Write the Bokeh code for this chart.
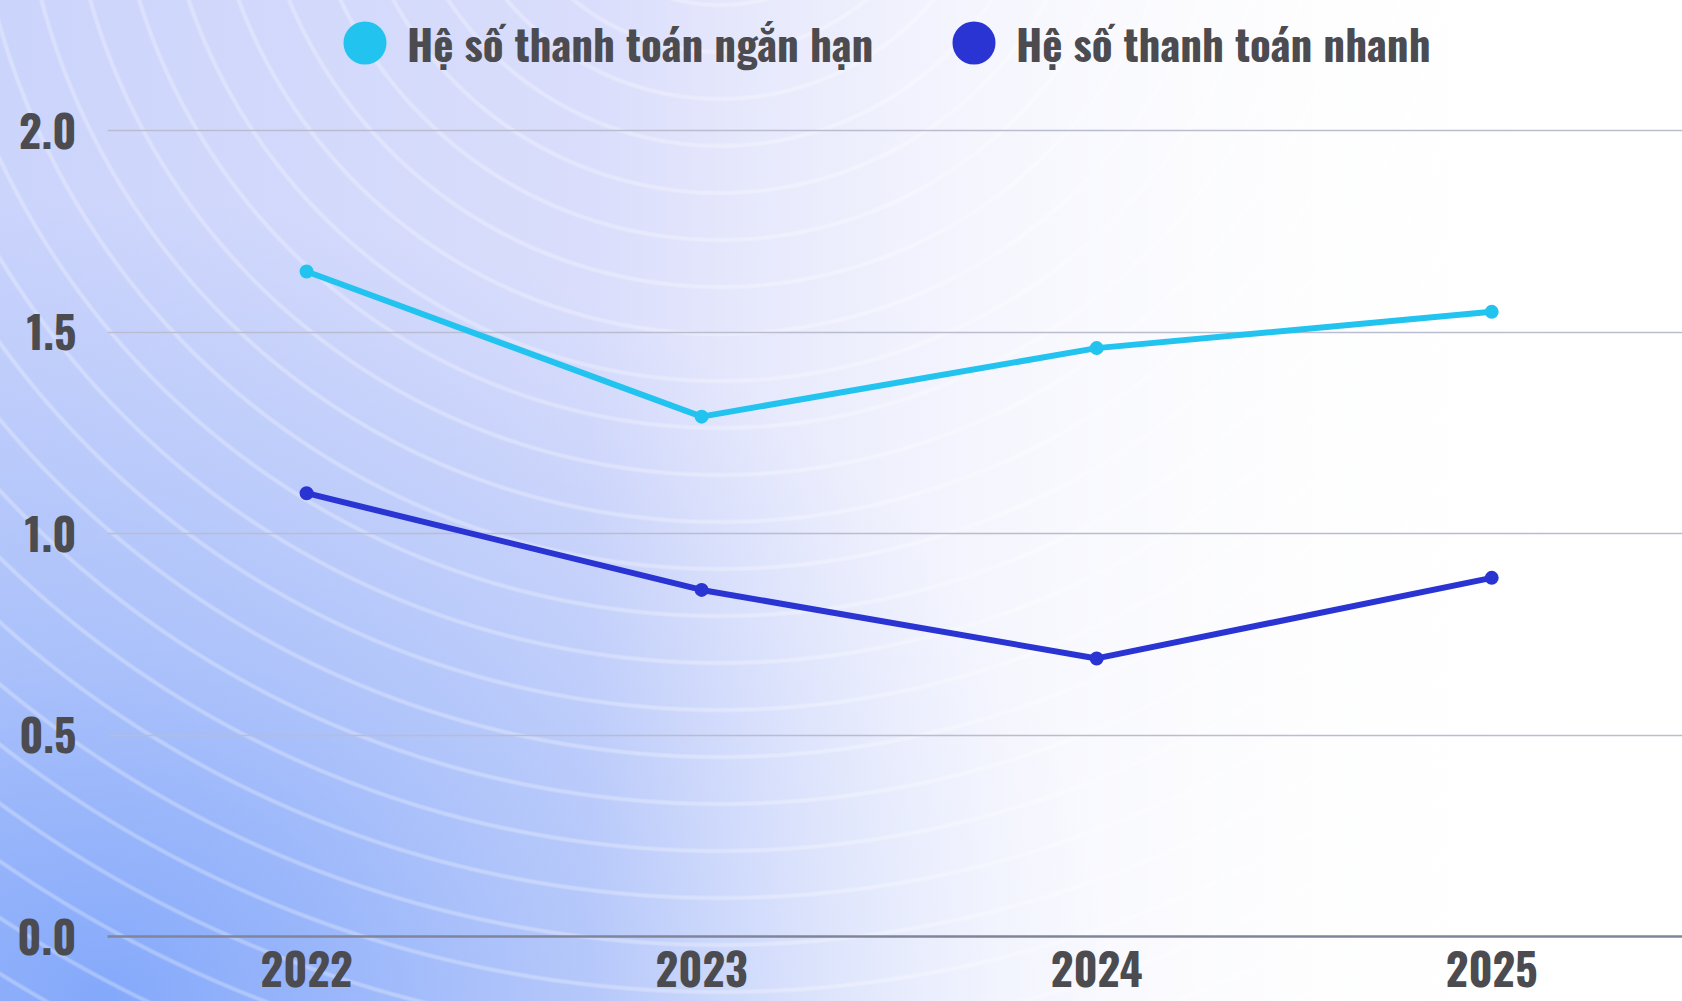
from bokeh.plotting import figure
from bokeh.models import (ColumnDataSource, Legend, LegendItem, FixedTicker,
                          Range1d, NumeralTickFormatter)
from bokeh.embed import file_html
from bokeh.resources import INLINE

# ---- data ----
years = ["2022", "2023", "2024", "2025"]
current_ratio = [1.65, 1.29, 1.46, 1.55]
quick_ratio = [1.10, 0.86, 0.69, 0.89]
y_ticks = [0.0, 0.5, 1.0, 1.5, 2.0]
series_names = ["Hệ số thanh toán ngắn hạn", "Hệ số thanh toán nhanh"]

FONT = "Oswald"
TEXT = "#4b4b50"
C1 = "#22c3ef"
C2 = "#2a34d3"

idx = list(range(len(years)))
src = ColumnDataSource(dict(i=idx, year=years, cur=current_ratio, quick=quick_ratio))

p = figure(width=1682, height=1001, output_backend="svg", toolbar_location=None,
           x_range=Range1d(-0.504, 3.483), y_range=Range1d(0, 2.3226),
           min_border_left=107, min_border_right=0, min_border_top=0,
           min_border_bottom=65)

p.background_fill_alpha = 0
p.border_fill_alpha = 0
p.outline_line_alpha = 0

bg = ("linear-gradient(to right, rgba(255,255,255,0) 0%, rgba(255,255,255,0) 35%, "
      "rgba(255,255,255,0.6) 60%, rgba(255,255,255,0.92) 82%, #ffffff 100%), "
      "repeating-radial-gradient(circle at 720px -180px, rgba(255,255,255,0) 0px, "
      "rgba(255,255,255,0) 41px, rgba(255,255,255,0.28) 43px, rgba(255,255,255,0.28) 45px, "
      "rgba(255,255,255,0) 47px), "
      "radial-gradient(ellipse 60% 80% at 6% 100%, rgba(128,166,250,0.95) 0%, "
      "rgba(140,175,250,0.5) 45%, rgba(140,175,250,0) 100%), "
      "linear-gradient(to right, #cbd4fb 0%, #dcdffb 40%, #eff0fd 70%, #ffffff 100%)")
p.styles = {"background": bg}

# grid
p.xgrid.grid_line_color = None
p.ygrid.ticker = FixedTicker(ticks=y_ticks)
p.ygrid.grid_line_color = "#babdd0"
p.ygrid.grid_line_width = 1.5

# axes
p.yaxis.ticker = FixedTicker(ticks=y_ticks)
p.yaxis.formatter = NumeralTickFormatter(format="0.0")
p.yaxis.axis_line_color = None
p.yaxis.major_tick_line_color = None
p.yaxis.minor_tick_line_color = None
p.yaxis.major_label_standoff = 25

p.xaxis.ticker = FixedTicker(ticks=idx)
p.xaxis.major_label_overrides = {i: y for i, y in zip(idx, years)}
for ax in (p.xaxis, p.yaxis):
    ax.major_label_text_font = FONT
    ax.major_label_text_font_style = "bold"
    ax.major_label_text_color = TEXT
    ax.major_label_text_font_size = "44px"

p.xaxis.axis_line_color = "#80859a"
p.xaxis.axis_line_width = 2.5
p.xaxis.major_tick_line_color = None
p.xaxis.minor_tick_line_color = None
p.xaxis.major_label_standoff = 8

# series
p.line("i", "cur", source=src, line_color=C1, line_width=6)
r1 = p.scatter("i", "cur", source=src, size=5, fill_color=C1, line_color=C1, line_width=9)
p.line("i", "quick", source=src, line_color=C2, line_width=6)
r2 = p.scatter("i", "quick", source=src, size=5, fill_color=C2, line_color=C2, line_width=9)

legend = Legend(items=[LegendItem(label=series_names[0], renderers=[r1]),
                       LegendItem(label=series_names[1], renderers=[r2])],
                location=(215, 851), orientation="horizontal",
                glyph_width=85, glyph_height=85, label_standoff=0,
                label_width=467, spacing=57, padding=0, margin=0,
                border_line_alpha=0, background_fill_alpha=0,
                label_text_font=FONT, label_text_font_style="bold",
                label_text_font_size="43px", label_text_color=TEXT)
p.add_layout(legend, "center")

open("out.html", "w").write(file_html(p, INLINE))
